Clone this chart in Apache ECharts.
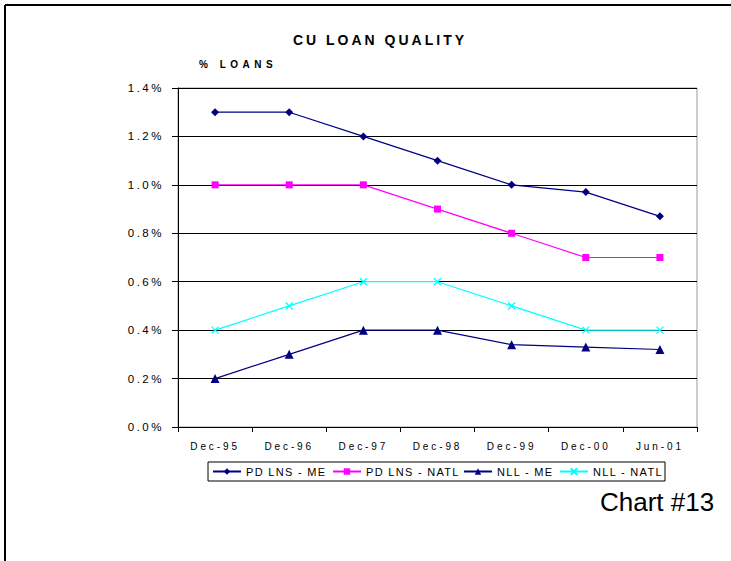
<!DOCTYPE html>
<html>
<head>
<meta charset="utf-8">
<script src="https://cdn.jsdelivr.net/npm/echarts@6/dist/echarts.min.js"></script>
<style>
  html, body { margin: 0; padding: 0; background: #fff; }
  #chart { width: 731px; height: 561px; }
  /* spaced-out lettering for the chart texts, keyed on font size */
  #chart text { letter-spacing: 1.3px; }
  #chart text[style*="26px"] { letter-spacing: 0; }
  #chart text[style*="14px"] { letter-spacing: 3px; }
  #chart text[style*="10px"] { letter-spacing: 2.9px; }
  #chart text[style*="10px"][style*="bold"] { letter-spacing: 4.5px; }
  #chart text[style*="11.5px"] { letter-spacing: 2.5px; }
</style>
</head>
<body>
<div id="chart"></div>
<script>
// Periods on the category axis
const periods = ['Dec-95', 'Dec-96', 'Dec-97', 'Dec-98', 'Dec-99', 'Dec-00', 'Jun-01'];

// Loan quality ratios, % of loans
const pdLnsMe   = [1.30, 1.30, 1.20, 1.10, 1.00, 0.97, 0.87];
const pdLnsNatl = [1.00, 1.00, 1.00, 0.90, 0.80, 0.70, 0.70];
const nllMe     = [0.20, 0.30, 0.40, 0.40, 0.34, 0.33, 0.32];
const nllNatl   = [0.40, 0.50, 0.60, 0.60, 0.50, 0.40, 0.40];

const seriesNames = ['PD LNS - ME', 'PD LNS - NATL', 'NLL - ME', 'NLL - NATL'];
const legendTextWidths = [77, 88, 53, 68];

const chart = echarts.init(document.getElementById('chart'), null, { renderer: 'svg' });

function lineSeries(name, data, color, symbol, size, extra) {
  return Object.assign({
    name: name,
    type: 'line',
    data: data,
    symbol: symbol,
    symbolSize: size,
    showAllSymbol: true,
    lineStyle: { color: color, width: 1.2 },
    itemStyle: { color: color },
    emphasis: { disabled: true }
  }, extra || {});
}

const legendText = { fontFamily: 'Arial', fontSize: 11, color: '#000' };

chart.setOption({
  animation: false,
  backgroundColor: '#fff',
  textStyle: { fontFamily: 'Arial' },
  title: [
    {
      text: 'CU LOAN QUALITY',
      left: 380, top: 33, textAlign: 'center', padding: 0,
      textStyle: { fontFamily: 'Arial', fontWeight: 'bold', fontSize: 14, color: '#000' }
    },
    {
      text: '% LOANS',
      left: 199, top: 59, padding: 0,
      textStyle: { fontFamily: 'Arial', fontWeight: 'bold', fontSize: 10, color: '#000' }
    },
    {
      text: 'Chart #13',
      left: 600, top: 489, padding: 0,
      textStyle: { fontFamily: 'Arial', fontWeight: 'normal', fontSize: 26, color: '#000' }
    }
  ],
  graphic: [
    { type: 'line', shape: { x1: 5, y1: 5, x2: 731, y2: 5 }, style: { stroke: '#000', lineWidth: 2 } },
    { type: 'line', shape: { x1: 5, y1: 5, x2: 5, y2: 561 }, style: { stroke: '#000', lineWidth: 2 } }
  ],
  legend: {
    left: 208, top: 462,
    padding: [4, 4, 4, 4],
    itemGap: 9,
    itemWidth: 28,
    itemHeight: 8,
    borderColor: '#000',
    borderWidth: 1,
    borderRadius: 0,
    selectedMode: false,
    textStyle: legendText,
    data: seriesNames.map((n, i) => ({
      name: n,
      textStyle: Object.assign({}, legendText, {
        width: legendTextWidths[i],
        backgroundColor: 'rgba(255,255,255,0)'
      })
    }))
  },
  grid: {
    left: 178, right: 34, top: 88, bottom: 134,
    show: true, borderColor: '#999', borderWidth: 1
  },
  xAxis: {
    type: 'category',
    data: periods,
    boundaryGap: true,
    axisLine: { lineStyle: { color: '#000', width: 1 } },
    axisTick: { show: true, alignWithLabel: false, length: 5, lineStyle: { color: '#000' } },
    axisLabel: { margin: 14, fontSize: 10, color: '#000', fontFamily: 'Arial' },
    splitLine: { show: false }
  },
  yAxis: {
    type: 'value',
    min: 0, max: 1.4, interval: 0.2,
    axisLine: { show: true, lineStyle: { color: '#000', width: 1 } },
    axisTick: { show: true, length: 6, lineStyle: { color: '#000' } },
    axisLabel: {
      margin: 14, fontSize: 11.5, color: '#000', fontFamily: 'Arial',
      formatter: v => v.toFixed(1) + '%'
    },
    splitLine: { show: true, lineStyle: { color: '#000', width: 1 } }
  },
  series: [
    lineSeries(seriesNames[0], pdLnsMe, '#000080', 'diamond', 8),
    lineSeries(seriesNames[1], pdLnsNatl, '#FF00FF', 'rect', 7),
    lineSeries(seriesNames[2], nllMe, '#000080', 'triangle', 9),
    lineSeries(seriesNames[3], nllNatl, '#00FFFF', 'path://M0,0L10,10M10,0L0,10', 7, {
      itemStyle: { color: '#00FFFF', borderColor: '#00FFFF', borderWidth: 1.3 }
    })
  ]
});
</script>
</body>
</html>
